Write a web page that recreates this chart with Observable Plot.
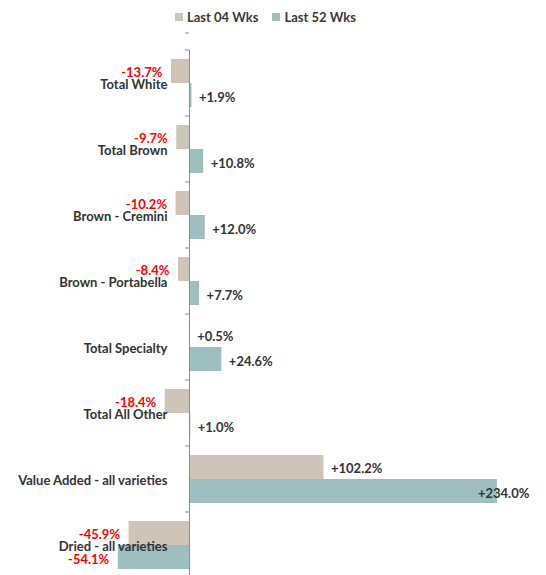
<!DOCTYPE html>
<html>
<head>
<meta charset="utf-8">
<script src="https://cdn.jsdelivr.net/npm/d3@7"></script>
<script src="https://cdn.jsdelivr.net/npm/@observablehq/plot@0.6"></script>
<style>
  html, body { margin: 0; padding: 0; background: #fff; overflow: hidden; }
  #legend { height: 33px; padding-left: 175px; }
  .lg-swatches-wrap { min-height: 33px !important; }
  .lg-swatch { margin-right: 14px !important; }
  .lg-swatch > svg { margin-right: 4px !important; }
</style>
</head>
<body>
<div id="legend"></div>
<div id="chart"></div>
<script>
const categories = [
  "Total White", "Total Brown", "Brown - Cremini", "Brown - Portabella",
  "Total Specialty", "Total All Other", "Value Added - all varieties", "Dried - all varieties"
];
const series = ["Last 04 Wks", "Last 52 Wks"];
const colors = ["#CEC5B8", "#9DBFBF"];
const last04 = [-13.7, -9.7, -10.2, -8.4, 0.5, -18.4, 102.2, -45.9];
const last52 = [1.9, 10.8, 12.0, 7.7, 24.6, 1.0, 234.0, -54.1];

const data = [];
categories.forEach((c, i) => {
  data.push({category: c, series: series[0], value: last04[i]});
  data.push({category: c, series: series[1], value: last52[i]});
});
const fmt = v => (v > 0 ? "+" : "") + v.toFixed(1) + "%";
const font = "Lato, 'Open Sans', sans-serif";

const d04 = data.filter(d => d.series === series[0]);
const d52 = data.filter(d => d.series === series[1]);

const labelMarks = (arr, dy) => [
  Plot.text(arr.filter(d => d.value < 0), {
    x: "value", y: "category", text: d => fmt(d.value),
    textAnchor: "end", dx: -9, dy, fill: "#FF0000"
  }),
  Plot.text(arr.filter(d => d.value >= 0 && d.value < 200), {
    x: "value", y: "category", text: d => fmt(d.value),
    textAnchor: "start", dx: 7, dy, fill: "#333333"
  }),
  Plot.text(arr.filter(d => d.value >= 200), {
    x: "value", y: "category", text: d => fmt(d.value),
    textAnchor: "end", dx: 32, dy, fill: "#333333"
  })
];

const chart = Plot.plot({
  width: 546,
  height: 545,
  marginTop: 17,
  marginBottom: 0,
  marginLeft: 0,
  marginRight: 0,
  style: {fontFamily: font, fontSize: "13px", fontWeight: "bold", background: "#fff", overflow: "visible"},
  x: {domain: [-143.6, 271.3], axis: null},
  y: {domain: categories, padding: 0, axis: null},
  color: {domain: series, range: colors},
  marks: [
    Plot.barX(d04, {y: "category", x: "value", fill: "series", insetTop: 9, insetBottom: 33}),
    Plot.barX(d52, {y: "category", x: "value", fill: "series", insetTop: 33, insetBottom: 9}),
    Plot.ruleX([0], {stroke: "#8c8c8c", strokeWidth: 1}),
    (index, scales, values, dims) => {
      const g = d3.create("svg:g").attr("stroke", "#8c8c8c");
      const x0 = scales.x(0);
      const ys = categories.map(c => scales.y(c)).concat([scales.y(categories[categories.length - 1]) + scales.y.bandwidth]);
      ys.forEach(y => g.append("line").attr("x1", x0 - 4).attr("x2", x0).attr("y1", y).attr("y2", y));
      return g.node();
    },
    Plot.text(categories, {
      x: () => 0, y: d => d, text: d => d, textAnchor: "end", dx: -22, dy: 1, fill: "#333333", fontSize: 13
    }),
    ...labelMarks(d04, -11),
    ...labelMarks(d52, 14)
  ]
});
document.getElementById("chart").appendChild(chart);

const legend = Plot.legend({
  color: {type: "categorical", domain: series, range: colors},
  swatchSize: 8,
  className: "lg",
  style: {fontFamily: font, fontSize: "13px", fontWeight: "bold", color: "#3a3a3a"}
});
document.getElementById("legend").appendChild(legend);
</script>
</body>
</html>
